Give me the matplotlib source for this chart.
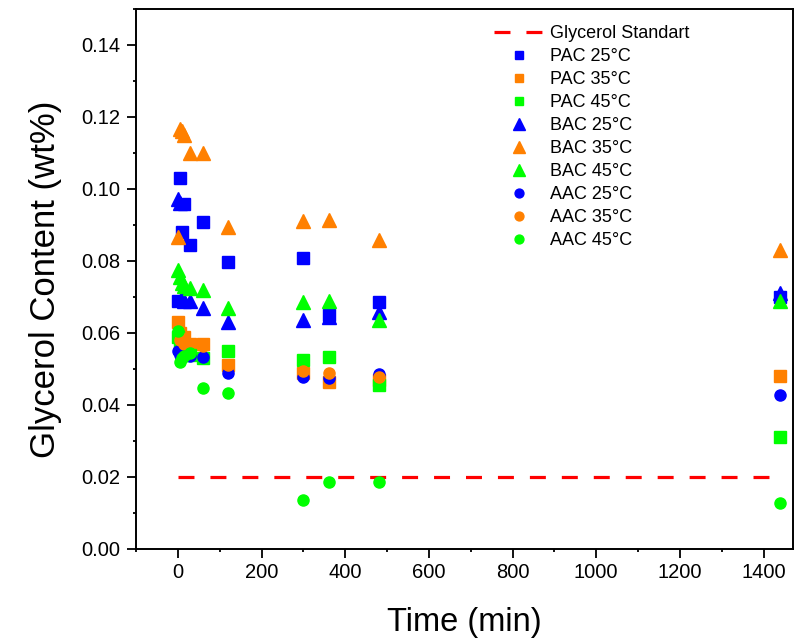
import numpy as np
import matplotlib
matplotlib.use("Agg")
import matplotlib.pyplot as plt
from matplotlib.ticker import MultipleLocator, FormatStrFormatter

plt.rcParams['font.family'] = ['Liberation Sans', 'DejaVu Sans']

# sampling times (min)
times = [0, 5, 10, 15, 30, 60, 120, 300, 360, 480, 1440]

# glycerol content (wt%)
pac_25 = [0.069, 0.103, 0.0879, 0.0957, 0.0843, 0.0907, 0.0798, 0.0807, 0.0650, 0.0685, 0.070]
pac_35 = [0.063, 0.060, 0.058, 0.059, 0.057, 0.057, 0.051, 0.049, 0.0465, 0.047, 0.048]
pac_45 = [0.059, 0.056, 0.054, 0.055, 0.054, 0.053, 0.055, 0.0524, 0.0532, 0.0455, 0.031]
bac_25 = [0.0973, 0.096, 0.070, 0.069, 0.069, 0.0668, 0.0630, 0.0635, 0.0645, 0.0657, 0.0710]
bac_35 = [0.0866, 0.1166, 0.116, 0.115, 0.110, 0.110, 0.0893, 0.0912, 0.0915, 0.0857, 0.0829]
bac_45 = [0.0775, 0.0755, 0.074, 0.073, 0.0726, 0.0718, 0.0668, 0.0685, 0.069, 0.0635, 0.069]
aac_25 = [0.055, 0.054, 0.0545, 0.055, 0.0535, 0.0533, 0.0488, 0.0478, 0.0475, 0.0485, 0.0427]
aac_35 = [0.0627, 0.058, 0.0585, 0.057, 0.057, 0.0565, 0.051, 0.0494, 0.0488, 0.0477, 0.048]
aac_45 = [0.0605, 0.052, 0.053, 0.0535, 0.0545, 0.0446, 0.0433, 0.0136, 0.0186, 0.0186, 0.0128]

std_t = [0, 1440]
std_val = [0.02, 0.02]

blue = '#0000FF'
orange = '#FF8000'
green = '#00FF00'

fig = plt.figure(figsize=(7.96, 6.39), dpi=100)
ax = fig.add_axes([0.171, 0.141, 0.825, 0.845])

ax.plot(std_t, std_val, color='#FF0000', lw=2.3, ls=(0, (5, 5)), label='Glycerol Standart')

series = [
    (pac_25, 's', blue, 'PAC 25°C', 8),
    (pac_35, 's', orange, 'PAC 35°C', 8),
    (pac_45, 's', green, 'PAC 45°C', 8),
    (bac_25, '^', blue, 'BAC 25°C', 10),
    (bac_35, '^', orange, 'BAC 35°C', 10),
    (bac_45, '^', green, 'BAC 45°C', 10),
    (aac_25, 'o', blue, 'AAC 25°C', 8),
    (aac_35, 'o', orange, 'AAC 35°C', 8),
    (aac_45, 'o', green, 'AAC 45°C', 8),
]
for vals, mk, col, lab, ms in series:
    ax.plot(times, vals, ls='none', marker=mk, color=col, ms=ms, mec=col, label=lab)

ax.set_xlim(-100, 1470)
ax.set_ylim(0, 0.15)
ax.xaxis.set_major_locator(MultipleLocator(200))
ax.xaxis.set_minor_locator(MultipleLocator(100))
ax.yaxis.set_major_locator(MultipleLocator(0.02))
ax.yaxis.set_minor_locator(MultipleLocator(0.01))
ax.yaxis.set_major_formatter(FormatStrFormatter('%.2f'))
ax.tick_params(which='major', direction='out', length=6.5, width=1.3, labelsize=14.5)
ax.tick_params(which='minor', direction='out', length=2.5, width=1.3)
ax.tick_params(top=False, right=False)
ax.tick_params(axis='y', pad=5)
for sp in ax.spines.values():
    sp.set_linewidth(1.4)

ax.set_xlabel('Time (min)', fontsize=23.5, labelpad=18)
ax.set_ylabel('Glycerol Content (wt%)', fontsize=25, labelpad=14)

ax.legend(loc='upper left', bbox_to_anchor=(0.52, 1.0), frameon=False,
          fontsize=13, labelspacing=0.33, handlelength=2.8, handletextpad=0.3,
          markerscale=0.8)

fig.savefig('out.png', dpi=100)
